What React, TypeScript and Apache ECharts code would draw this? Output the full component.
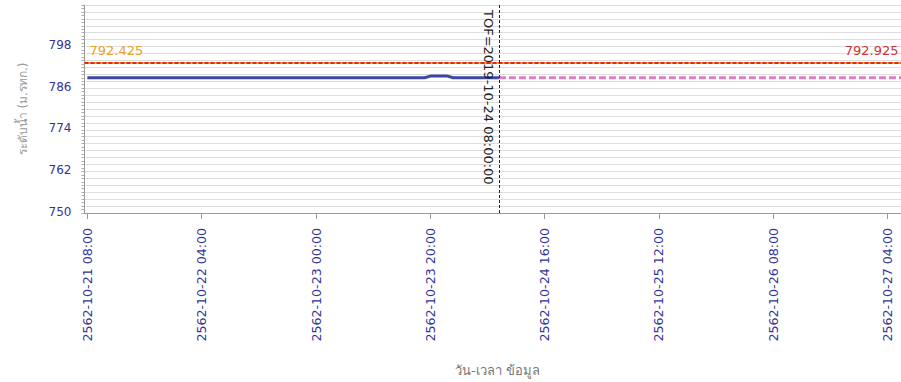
import React, { useEffect, useRef } from 'react';
import * as echarts from 'echarts';

const HOUR = 3600 * 1000;
const START = Date.UTC(2019, 9, 21, 8);
const TOF = Date.UTC(2019, 9, 24, 8);
const AXIS_MIN = Date.UTC(2019, 9, 21, 7, 30);
const AXIS_MAX = Date.UTC(2019, 9, 27, 8);

// observed water level (m MSL), hourly from 2019-10-21 08:00 to 2019-10-24 08:00
const observedLevels = [
  789.0, 789.0, 789.0, 789.0, 789.0, 789.0, 789.0, 789.0, 789.0, 789.0,
  789.0, 789.0, 789.0, 789.0, 789.0, 789.0, 789.0, 789.0, 789.0, 789.0,
  789.0, 789.0, 789.0, 789.0, 789.0, 789.0, 789.0, 789.0, 789.0, 789.0,
  789.0, 789.0, 789.0, 789.0, 789.0, 789.0, 789.0, 789.0, 789.0, 789.0,
  789.0, 789.0, 789.0, 789.0, 789.0, 789.0, 789.0, 789.0, 789.0, 789.0,
  789.0, 789.0, 789.0, 789.0, 789.0, 789.0, 789.0, 789.0, 789.0, 789.0,
  789.5, 789.55, 789.55, 789.5, 789.0, 789.0, 789.0, 789.0, 789.0, 789.0,
  789.0, 789.0, 789.0,
];
// forecast level, every 6 hours from TOF to 2019-10-27 08:00
const forecastLevels = [789.0, 789.0, 789.0, 789.0, 789.0, 789.0, 789.0, 789.0, 789.0, 789.0, 789.0, 789.0, 789.0];

// threshold lines: level where drawn, and the text printed on them
const thresholdLevels = [793.4, 793.4];
const thresholdTexts = ['792.425', '792.925'];

const xTickLabels = [
  '2562-10-21 08:00', '2562-10-22 04:00', '2562-10-23 00:00', '2562-10-23 20:00',
  '2562-10-24 16:00', '2562-10-25 12:00', '2562-10-26 08:00', '2562-10-27 04:00',
];
const yTickLabels = [750, 762, 774, 786, 798];

const tofLabel = 'TOF=2019-10-24 08:00:00';
const yName = 'ระดับน้ำ (ม.รทก.)';
const xName = 'วัน-เวลา ข้อมูล';

function thaiLabelToTs(s: string): number {
  const [d, t] = s.split(' ');
  const [y, m, day] = d.split('-').map(Number);
  const [hh, mm] = t.split(':').map(Number);
  return Date.UTC(y - 543, m - 1, day, hh, mm);
}

const FONT = 'Tahoma, "DejaVu Sans", "Noto Sans", sans-serif';
const NAVY = '#333399';

export default function App() {
  const ref = useRef<HTMLDivElement>(null);
  useEffect(() => {
    if (!ref.current) return;
    const chart = echarts.init(ref.current, undefined, { renderer: 'svg' });
    const tickTs = xTickLabels.map(thaiLabelToTs);
    const observed = observedLevels.map((v, i) => [START + i * HOUR, v]);
    const forecast = forecastLevels.map((v, i) => [TOF + i * 6 * HOUR, v]);
    chart.setOption({
      animation: false,
      textStyle: { fontFamily: FONT },
      grid: { left: 84.5, top: 5, width: 826, height: 212 },
      xAxis: {
        type: 'value',
        min: AXIS_MIN,
        max: AXIS_MAX,
        name: xName,
        nameLocation: 'middle',
        nameGap: 151,
        nameTextStyle: { color: '#777', fontSize: 13, fontFamily: FONT },
        axisLine: { show: true, onZero: false, lineStyle: { color: '#999', width: 1 } },
        axisTick: { show: true, length: 6, lineStyle: { color: '#999' }, customValues: tickTs },
        axisLabel: {
          customValues: tickTs,
          rotate: 90,
          margin: 15,
          color: NAVY,
          fontSize: 12.6,
          fontFamily: FONT,
          formatter: (v: number) => {
            const i = tickTs.indexOf(v);
            return i >= 0 ? xTickLabels[i] : '';
          },
        },
        splitLine: { show: false },
      },
      yAxis: {
        type: 'value',
        min: 750,
        max: 810,
        interval: 2,
        name: yName,
        nameLocation: 'middle',
        nameGap: 56,
        nameTextStyle: { color: '#999', fontSize: 12, fontFamily: FONT },
        axisLine: { show: true, lineStyle: { color: '#999', width: 1 } },
        axisTick: { show: true, length: 3, lineStyle: { color: '#aaa' } },
        minorTick: { show: true, splitNumber: 2, length: 3, lineStyle: { color: '#aaa' } },
        axisLabel: {
          margin: 13,
          color: NAVY,
          fontSize: 12,
          fontFamily: FONT,
          verticalAlign: 'bottom',
          lineHeight: 3,
          formatter: (v: number) => (yTickLabels.indexOf(v) >= 0 ? String(v) : ''),
        },
        splitLine: { show: true, lineStyle: { color: '#dedede', width: 1 } },
      },
      series: [
        {
          type: 'line',
          data: forecast,
          showSymbol: false,
          symbol: 'none',
          lineStyle: { color: '#e07cc4', width: 3, type: [7, 3] },
          z: 2,
        },
        {
          type: 'line',
          data: observed,
          showSymbol: false,
          symbol: 'none',
          lineStyle: { color: '#3d47a6', width: 3 },
          z: 3,
          markLine: {
            silent: true,
            symbol: ['none', 'none'],
            data: [
              {
                yAxis: thresholdLevels[0],
                lineStyle: { color: '#f5a623', type: 'solid', width: 2 },
                label: {
                  show: true,
                  position: 'insideStartTop',
                  formatter: thresholdTexts[0],
                  color: '#e8a32a',
                  fontSize: 13,
                  fontFamily: FONT,
                  distance: [5, 6],
                },
              },
              {
                yAxis: thresholdLevels[1],
                lineStyle: { color: '#e3261c', type: [4, 2], width: 2 },
                label: {
                  show: true,
                  position: 'insideEndTop',
                  formatter: thresholdTexts[1],
                  color: '#cc3333',
                  fontSize: 13,
                  fontFamily: FONT,
                  distance: [12, 6],
                },
              },
              [
                {
                  coord: [TOF, 810],
                  lineStyle: { color: '#222', type: [3, 2], width: 1 },
                  label: {
                    show: true,
                    position: 'insideStartBottom',
                    formatter: tofLabel,
                    color: '#222',
                    fontSize: 13,
                    fontFamily: FONT,
                    distance: [5, 4],
                  },
                },
                { coord: [TOF, 750] },
              ],
            ],
          },
        },
      ],
    });
    return () => chart.dispose();
  }, []);
  return (
    <div style={{ position: 'absolute', left: 0, top: 0, width: 901, height: 382, overflow: 'hidden', background: '#fff' }}>
      <div ref={ref} style={{ width: 940, height: 382 }} />
    </div>
  );
}
